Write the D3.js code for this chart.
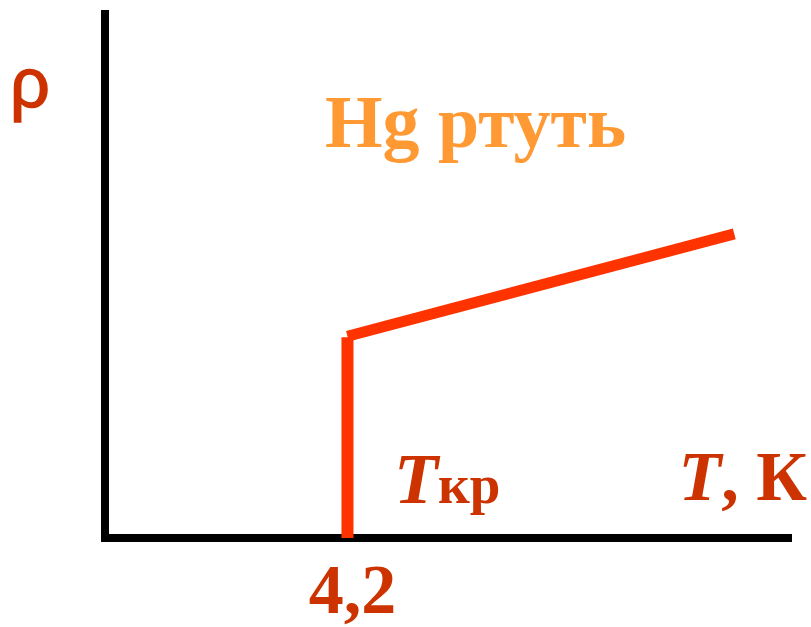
<!DOCTYPE html>
<html lang="ru">
<head>
    <meta charset="UTF-8">
    <script src="https://d3js.org/d3.v7.min.js"></script>
    <style>
        body { margin: 0; background: #fff; }
        text { font-family: "Liberation Serif", "Times New Roman", serif; font-weight: bold; }
    </style>
</head>
<body>
    <svg id="chart" width="811" height="627"></svg>
    <script>
        // superconducting jump at Tкр
        const jumpT = [4.2, 4.2];
        const jumpRho = [0, 3.8];
        // normal-state resistance above Tкр
        const normalT = [4.2, 10.9];
        const normalRho = [3.82, 5.76];
        const tickValues = [4.2];
        const tickLabels = ["4,2"];

        const width = 811, height = 627;
        const svg = d3.select("#chart");

        const x = d3.scaleLinear().domain([0, 11.9]).range([105, 792]);
        const y = d3.scaleLinear().domain([0, 10]).range([538, 10]);

        // axes (plain thick lines, no ticks)
        svg.append("line")
            .attr("x1", x(0)).attr("x2", x(0))
            .attr("y1", y(10)).attr("y2", y(0) + 4)
            .attr("stroke", "#000").attr("stroke-width", 8);
        svg.append("line")
            .attr("x1", x(0) - 4).attr("x2", x(11.9))
            .attr("y1", y(0)).attr("y2", y(0))
            .attr("stroke", "#000").attr("stroke-width", 8);

        const line = d3.line().x(d => x(d[0])).y(d => y(d[1]));

        svg.append("path")
            .attr("d", line(d3.zip(jumpT, jumpRho)))
            .attr("fill", "none")
            .attr("stroke", "#FF3300")
            .attr("stroke-width", 12);

        svg.append("path")
            .attr("d", line(d3.zip(normalT, normalRho)))
            .attr("fill", "none")
            .attr("stroke", "#FF3300")
            .attr("stroke-width", 11);

        svg.selectAll(".tick-label")
            .data(tickValues)
            .enter().append("text")
            .attr("class", "tick-label")
            .attr("x", d => x(d) + 5)
            .attr("y", 613)
            .attr("text-anchor", "middle")
            .style("font-size", "70px")
            .attr("fill", "#CC3300")
            .text((d, i) => tickLabels[i]);

        // y axis label
        svg.append("text")
            .attr("x", 10)
            .attr("y", 107)
            .style("font-family", "'Liberation Sans', Arial, sans-serif")
            .style("font-weight", "normal")
            .style("font-size", "70px")
            .style("stroke", "#CC3300")
            .style("stroke-width", 1.5)
            .attr("fill", "#CC3300")
            .text("ρ");

        // title
        svg.append("text")
            .attr("x", 325)
            .attr("y", 147)
            .style("font-size", "74px")
            .attr("fill", "#FF9933")
            .text("Hg ртуть");

        // Tкр label
        const tk = svg.append("text")
            .attr("x", 394)
            .attr("y", 503)
            .attr("fill", "#CC3300");
        tk.append("tspan").style("font-style", "italic").style("font-size", "72px").text("T");
        tk.append("tspan").style("font-size", "55px").text("кр");

        // x axis label
        const tl = svg.append("text")
            .attr("x", 807)
            .attr("y", 500)
            .attr("text-anchor", "end")
            .attr("fill", "#CC3300")
            .style("font-size", "70px");
        tl.append("tspan").style("font-style", "italic").text("T");
        tl.append("tspan").text(", К");
    </script>
</body>
</html>
